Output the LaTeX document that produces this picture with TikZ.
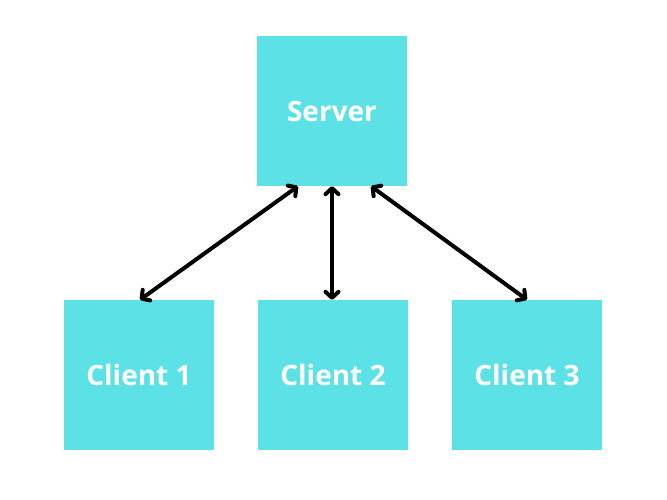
\documentclass[tikz,border=0pt]{standalone}
\usepackage{fontspec}
\setmainfont{Open Sans}
\usetikzlibrary{arrows.meta,calc}
\definecolor{boxcyan}{HTML}{5CE1E6}
\begin{document}
\begin{tikzpicture}[x=1pt,y=-1pt,
  box/.style={fill=boxcyan,minimum width=150pt,minimum height=150pt,inner sep=0pt,text=white,font=\fontsize{28}{32}\selectfont\bfseries},
  link/.style={line width=4pt,{Straight Barb[length=6pt,width=13pt,line cap=round,line join=round]}-{Straight Barb[length=6pt,width=13pt,line cap=round,line join=round]}}]
\useasboundingbox (0,0) rectangle (667,500);
\fill[white] (0,0) rectangle (667,500);
\node[box] (server) at (332,111) {\raisebox{-2pt}{Server}};
\node[box] (c1) at (139,375) {\raisebox{-2pt}{Client 1}};
\node[box] (c2) at (333,375) {\raisebox{-2pt}{Client 2}};
\node[box] (c3) at (527,375) {\raisebox{-2pt}{Client 3}};
\draw[link] ($(server.south)+(-34,0)$) -- ($(c1.north)+(1,0)$);
\draw[link] ($(server.south)+(0,0)$) -- ($(c2.north)+(-1,0)$);
\draw[link] ($(server.south)+(39,0)$) -- (c3.north);
\end{tikzpicture}
\end{document}
